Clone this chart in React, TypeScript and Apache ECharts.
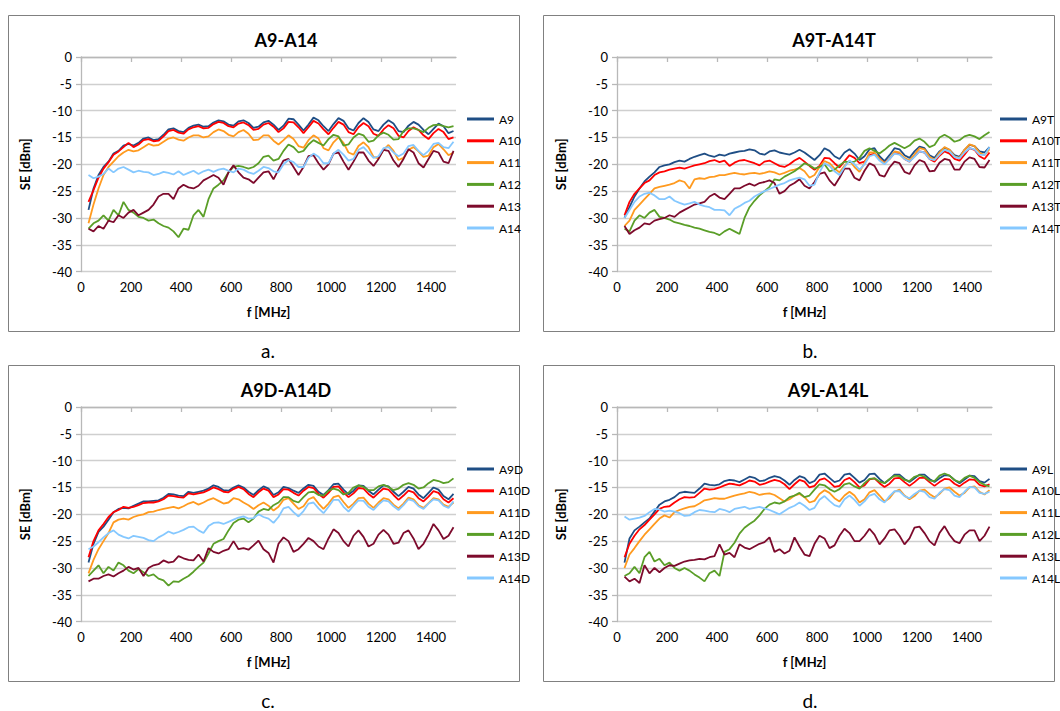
import React, { useEffect, useRef } from "react";
import * as echarts from "echarts";

// Frequency grid [MHz]
const FREQ = [
  30, 50, 70, 90, 110, 130, 150, 170, 190, 210,
  230, 250, 270, 290, 310, 330, 350, 370, 390, 410,
  430, 450, 470, 490, 510, 530, 550, 570, 590, 610,
  630, 650, 670, 690, 710, 730, 750, 770, 790, 810,
  830, 850, 870, 890, 910, 930, 950, 970, 990, 1010,
  1030, 1050, 1070, 1090, 1110, 1130, 1150, 1170, 1190, 1210,
  1230, 1250, 1270, 1290, 1310, 1330, 1350, 1370, 1390, 1410,
  1430, 1450, 1470, 1490,
];

const X_TICKS = [0, 200, 400, 600, 800, 1000, 1200, 1400];
const Y_TICKS = [0, -5, -10, -15, -20, -25, -30, -35, -40];

// ---- Panel a: A9-A14 ----
const A9 = [
  -28.5, -24.5, -22, -20.5, -19.5, -18, -17.5, -16.5, -16.2, -16.5,
  -16.0, -15.2, -15.0, -15.5, -15.3, -14.5, -13.5, -13.3, -13.8, -14.0,
  -13.2, -12.8, -12.6, -13.0, -12.9, -12.2, -11.8, -12.0, -12.6, -12.8,
  -12.0, -11.8, -12.3, -13.2, -13.0, -12.2, -11.9, -12.6, -13.6, -12.8,
  -11.5, -11.6, -12.6, -13.7, -12.6, -11.3, -11.8, -12.9, -13.8, -12.5,
  -11.4, -11.9, -13.3, -13.7, -12.3, -11.4, -12.1, -13.5, -13.8, -12.6,
  -11.8, -12.4, -13.8, -14.0, -12.8, -12.1, -12.6, -13.6, -14.4, -13.4,
  -12.4, -12.9, -14.2, -13.8,
];
const A10 = [
  -27, -24.8, -22.5, -20.8, -19.6, -18.2, -17.6, -16.8, -16.0, -16.8,
  -16.3, -15.5, -15.3, -15.7, -15.6, -14.8, -13.8, -13.6, -14.1, -14.3,
  -13.5, -13.1, -12.9, -13.3, -13.2, -12.5, -12.1, -12.3, -12.9, -13.1,
  -12.4, -12.2, -12.7, -13.6, -13.4, -12.6, -12.3, -13.0, -14.0, -13.3,
  -12.1, -12.2, -13.1, -14.2, -13.1, -11.9, -12.4, -13.5, -14.4, -13.2,
  -12.1, -12.6, -14.0, -14.4, -13.1, -12.3, -12.9, -14.3, -14.7, -13.5,
  -12.7, -13.3, -14.7, -15.0, -13.8, -13.1, -13.6, -14.6, -15.3, -14.2,
  -13.4, -14.0, -15.3, -15.0,
];
const A11 = [
  -31, -27.5, -24.5, -22, -20.5, -19.5, -18.5, -17.8, -17.3, -17.6,
  -17.4, -16.8, -16.2, -16.5, -16.4, -15.8, -15.2, -15.0, -15.4, -15.6,
  -15.0, -14.6, -14.6, -15.0, -14.8, -14.0, -13.5, -13.8, -14.5, -14.8,
  -14.0, -13.6, -14.3, -15.5, -15.4, -14.6, -14.6, -15.6, -16.3, -15.5,
  -14.6, -15.3, -16.6, -16.9, -15.5, -14.6, -15.2, -17.0, -17.4, -15.9,
  -15.0, -16.0, -17.8, -18.2, -16.6, -15.9, -16.8, -18.6, -18.9, -17.3,
  -16.4, -17.5, -19.2, -18.8, -17.3, -16.8, -17.6, -18.6, -18.4, -16.8,
  -16.2, -17.2, -18.3, -17.8,
];
const A12 = [
  -32, -31, -30.5, -29.5, -30.5, -28.5, -29.5, -27, -28.5, -29,
  -29.8, -30, -30.5, -30.3, -31.0, -31.5, -31.8, -32.5, -33.6, -32.0,
  -32.2, -29.5, -28.5, -29.8, -26.5, -24.5, -23.8, -23.0, -21.5, -20.5,
  -20.3, -20.5, -20.8, -20.5, -19.8, -18.6, -18.4, -19.3, -19.0, -17.5,
  -16.3, -16.8, -17.8, -17.5, -16.3, -15.5, -16.0, -16.5, -15.3, -14.5,
  -14.8, -16.5, -16.3, -15.0, -14.3, -14.6, -15.8, -15.6, -14.6, -14.1,
  -14.5, -15.4, -15.3, -13.8, -13.3, -13.3, -13.6, -14.0, -13.2, -12.7,
  -12.6, -12.9, -13.1, -12.9,
];
const A13 = [
  -32, -32.5, -31.5, -32, -30.5, -30.8, -29.5, -30, -29, -28.5,
  -29.5, -29, -28.5, -27.5, -26, -25.5, -25.5, -26.5, -24.5, -23.8,
  -24.3, -24.5, -24.0, -23.0, -22.5, -22.0, -22.5, -23.8, -21.5, -20.2,
  -21.5, -22.5, -22.8, -23.5, -22.5, -21.5, -21.3, -22.8, -21.0, -19.3,
  -19.0, -20.5, -22.0, -20.5, -18.5, -18.3, -19.8, -21.0, -20.0, -18.0,
  -17.8, -19.5, -21.0, -19.5, -17.8, -17.8, -19.3, -20.3, -19.0, -17.3,
  -17.5, -19.3, -20.5, -19.0, -17.2, -17.8, -19.8, -20.6, -19.0, -17.5,
  -17.8, -19.5, -19.8, -17.5,
];
const A14 = [
  -22.0, -22.6, -22.3, -21.8, -20.8, -21.5, -20.8, -20.5, -21.0, -21.5,
  -21.2, -21.4, -21.5, -22.0, -21.8, -21.4, -21.6, -21.9, -21.3, -22.0,
  -21.6, -21.2, -21.8, -21.3, -21.0, -21.4, -21.0, -20.8, -21.2, -21.5,
  -20.8, -21.0, -21.5, -21.8, -21.2, -20.5, -20.7, -21.3, -21.5, -20.0,
  -19.2, -19.6, -20.5, -20.5, -18.8, -18.0, -18.6, -19.8, -19.8, -18.0,
  -17.3, -18.2, -19.3, -19.0, -17.3, -16.8, -17.8, -18.8, -18.5, -17.0,
  -16.8, -17.8, -18.5, -18.0, -16.6, -16.4, -17.5, -18.3, -17.5, -16.2,
  -16.0, -16.8, -17.0, -15.8,
];

// ---- Panel b: A9T-A14T ----
const A9T = [
  -30.0, -28.0, -26.0, -24.5, -23.2, -22.3, -21.5, -20.5, -20.2, -20.0,
  -19.6, -19.3, -19.5, -19.0, -18.6, -18.3, -18.0, -18.4, -18.6, -18.2,
  -18.4, -18.0, -17.8, -17.6, -17.5, -17.2, -17.4, -18.0, -18.2, -17.6,
  -17.4, -17.8, -18.0, -18.2, -17.8, -17.3, -17.8, -18.5, -19.2, -18.3,
  -17.0, -17.5, -18.5, -19.0, -17.8, -17.2, -18.0, -19.2, -18.5, -17.2,
  -17.0, -18.5, -19.4, -18.3, -17.0, -17.2, -18.3, -18.8, -17.6, -16.7,
  -17.0, -18.3, -18.8, -17.6, -16.9, -17.3, -18.3, -18.6, -17.3, -16.4,
  -16.6, -17.6, -17.8, -16.8,
];
const A10T = [
  -29.5, -27.0, -25.5, -24.5, -23.5, -23.0, -22.0, -21.5, -21.3, -21.0,
  -20.8, -20.6, -20.8, -20.5, -20.2, -20.0, -19.8, -19.4, -19.2, -19.6,
  -19.3, -20.3, -19.7, -19.3, -19.2, -19.5, -19.8, -20.2, -19.5, -19.3,
  -19.8, -20.3, -20.5, -20.0, -19.3, -18.8, -19.5, -20.3, -21.0, -20.3,
  -18.8, -18.9, -19.8, -20.6, -19.4, -18.3, -18.8, -19.8, -19.5, -18.3,
  -18.0, -19.0, -19.8, -19.0, -17.9, -18.0, -19.0, -19.5, -18.5, -17.6,
  -17.8, -19.0, -19.5, -18.4, -17.6, -18.0, -19.0, -19.3, -18.2, -17.0,
  -17.3, -18.5, -19.0, -17.8,
];
const A11T = [
  -31.5, -30.5, -28.5, -27.5, -26.5, -25.5, -24.5, -24.2, -24.0, -23.8,
  -23.5, -23.0, -23.3, -24.5, -22.8, -22.6, -22.7, -22.4, -22.3, -22.0,
  -22.0, -21.8, -21.6, -21.8, -21.9, -21.7, -21.6, -21.8, -21.6, -21.3,
  -21.5, -21.9, -21.6, -21.2, -21.0, -20.7, -21.3, -22.5, -22.0, -20.5,
  -19.4, -19.8, -20.8, -21.5, -20.3, -19.3, -20.5, -21.4, -19.8, -17.8,
  -17.8, -19.0, -19.8, -19.0, -17.6, -17.8, -18.8, -19.3, -18.2, -17.0,
  -17.2, -18.6, -19.2, -17.8, -16.8, -17.3, -18.5, -18.8, -17.3, -16.3,
  -16.6, -17.8, -18.3, -17.2,
];
const A12T = [
  -32.0, -32.5, -30.5, -29.5, -30.0, -29.0, -28.5, -29.8, -30.0, -30.3,
  -30.8, -31.0, -31.3, -31.5, -31.8, -32.0, -32.3, -32.6, -32.8, -33.2,
  -32.5, -32.0, -32.5, -33.0, -30.0, -28.0, -26.8, -25.8, -25.0, -24.2,
  -22.8, -23.0, -22.3, -21.8, -21.3, -20.6, -19.8, -20.2, -20.8, -20.5,
  -20.0, -21.3, -21.0, -20.2, -19.5, -19.6, -19.5, -18.8, -17.5, -17.0,
  -17.5, -18.0, -17.3, -16.5, -16.0, -16.5, -17.0, -16.5, -15.6, -15.2,
  -15.8, -16.8, -16.4, -15.0, -14.5, -15.0, -15.8, -15.5, -14.8, -14.5,
  -14.8, -15.3, -14.6, -14.0,
];
const A13T = [
  -31.5, -33.0, -32.3, -31.8, -31.0, -31.2, -30.5, -30.2, -30.0, -29.5,
  -29.8, -29.0, -28.5, -28.0, -27.5, -27.3, -27.0, -26.0, -25.5, -26.2,
  -26.5, -25.5, -24.5, -24.5, -24.0, -23.6, -24.0, -23.5, -23.3, -23.0,
  -23.5, -25.5, -25.0, -24.0, -23.5, -22.8, -24.0, -24.5, -23.3, -21.8,
  -21.5, -23.0, -24.0, -22.5, -20.8, -20.8, -22.5, -23.0, -21.2, -19.8,
  -20.3, -22.0, -22.3, -20.6, -19.5, -19.8, -21.4, -21.8, -20.2, -19.2,
  -19.6, -21.3, -21.2, -19.7, -19.0, -19.2, -21.0, -21.0, -19.5, -18.7,
  -19.0, -20.5, -20.6, -19.2,
];
const A14T = [
  -30.0, -28.5, -27.0, -26.0, -25.5, -25.3, -25.8, -26.5, -26.5, -26.0,
  -26.8, -27.2, -27.5, -27.3, -27.0, -27.5, -27.8, -28.0, -28.5, -28.5,
  -28.6, -29.5, -28.3, -27.8, -27.2, -26.8, -26.0, -25.5, -25.0, -24.6,
  -24.2, -23.8, -23.5, -23.0, -22.7, -22.5, -22.8, -24.0, -23.8, -21.5,
  -19.8, -20.3, -21.3, -22.0, -20.5, -19.3, -20.0, -21.0, -20.0, -18.5,
  -18.2, -19.3, -20.0, -19.0, -18.0, -18.2, -19.0, -19.5, -18.6, -17.6,
  -17.8, -19.0, -19.2, -18.2, -17.3, -17.6, -18.6, -18.9, -17.8, -17.0,
  -17.2, -18.2, -18.3, -16.8,
];

// ---- Panel c: A9D-A14D ----
const A9D = [
  -29.0, -25.5, -23.3, -22.3, -21.0, -19.6, -19.0, -18.8, -18.9, -18.4,
  -18.0, -17.6, -17.6, -17.5, -17.4, -16.9, -16.2, -16.3, -16.5, -16.6,
  -15.8, -16.0, -15.8, -15.6, -15.2, -14.6, -14.9, -15.5, -15.6, -15.0,
  -14.6, -15.0, -15.8, -16.4, -15.5, -14.8, -15.2, -16.4, -15.9, -14.9,
  -15.1, -15.6, -16.0, -15.2, -14.5, -14.7, -15.8, -16.4, -15.5, -14.4,
  -14.3, -15.4, -16.3, -15.6, -14.6, -14.7, -15.6, -16.3, -15.4, -14.6,
  -14.8, -15.8, -16.6, -15.8, -14.9, -15.2, -16.3, -17.0, -16.0, -15.0,
  -15.4, -16.6, -17.2, -16.2,
];
const A10D = [
  -28.0, -25.0, -23.0, -21.8, -20.5, -19.6, -19.2, -18.6, -18.8, -18.6,
  -18.3, -17.9, -17.8, -17.8, -17.6, -17.2, -16.5, -16.6, -16.8, -16.9,
  -16.1, -16.3, -16.1, -15.9, -15.5, -15.0, -15.3, -15.8, -15.9, -15.3,
  -14.9, -15.3, -16.2, -16.8, -15.9, -15.2, -15.6, -16.8, -16.3, -15.3,
  -15.4, -16.0, -16.5, -15.6, -14.9, -15.1, -16.2, -16.9, -16.0, -14.9,
  -14.8, -15.9, -16.8, -16.1, -15.1, -15.2, -16.2, -16.9, -16.0, -15.2,
  -15.4, -16.4, -17.3, -16.5, -15.6, -15.9, -17.0, -17.6, -16.7, -15.7,
  -16.0, -17.2, -17.8, -17.0,
];
const A11D = [
  -31.0, -28.5, -26.5, -25.0, -23.5, -21.5, -21.0, -20.8, -21.0, -20.5,
  -20.2, -20.0, -19.6, -19.5, -19.2, -19.0, -18.8, -18.6, -18.9, -18.5,
  -18.0, -17.7, -18.2, -17.8, -17.3, -17.0, -17.5, -18.0, -17.8, -17.0,
  -17.2, -17.8, -18.3, -19.0, -18.3, -17.8, -18.4, -19.3, -18.6, -17.3,
  -17.0, -18.0, -19.0, -18.5, -17.2, -16.8, -18.0, -19.0, -18.0, -16.8,
  -16.5, -17.7, -18.8, -18.0, -17.0, -16.9, -18.0, -18.8, -17.8, -17.0,
  -17.2, -18.2, -18.9, -18.0, -16.9, -17.2, -18.3, -18.8, -17.9, -17.0,
  -17.2, -18.2, -18.6, -17.8,
];
const A12D = [
  -31.5, -30.5, -29.5, -31.0, -29.8, -30.5, -29.0, -29.5, -30.5, -31.0,
  -30.2, -30.8, -31.5, -31.2, -32.0, -32.3, -33.3, -32.5, -32.6, -32.0,
  -31.5, -30.7, -29.8, -29.0, -27.3, -25.5, -25.0, -24.6, -23.0, -21.6,
  -21.0, -20.8, -21.5, -20.8, -19.5, -19.0, -19.2, -18.3, -17.8, -16.8,
  -16.8, -17.5, -17.8, -16.8, -15.9, -15.8, -16.4, -16.5, -15.6, -15.2,
  -15.5, -16.3, -16.0, -15.0, -14.6, -14.9, -15.5, -15.5, -14.8, -14.5,
  -14.9, -15.5, -15.2, -14.5, -14.2, -14.5, -15.2, -15.0, -14.2, -13.6,
  -13.8, -14.2, -14.0, -13.3,
];
const A13D = [
  -32.5, -32.0, -32.0, -31.5, -31.2, -31.6, -31.0, -30.5, -29.8, -30.3,
  -30.0, -31.5, -30.0, -29.5, -29.3, -28.6, -29.0, -28.8, -27.8, -28.2,
  -28.5, -28.6, -27.5, -28.8, -26.3, -27.0, -27.3, -26.8, -26.5, -25.0,
  -26.5, -26.3, -26.6, -25.8, -24.9, -26.5, -27.2, -29.0, -25.5, -24.3,
  -25.0, -27.0, -26.5, -25.5, -24.4, -25.0, -26.0, -26.5, -24.5, -22.8,
  -23.5, -25.0, -26.0, -24.0, -23.0, -24.2, -26.0, -25.5, -23.8, -22.9,
  -23.8, -25.5, -25.3, -23.5, -23.0, -24.5, -26.5, -25.5, -23.8, -21.8,
  -23.0, -24.6, -24.0, -22.4,
];
const A14D = [
  -26.5, -26.0, -25.2, -24.3, -23.5, -23.0, -23.8, -24.2, -24.5, -24.0,
  -24.2, -24.4, -24.8, -25.0, -24.3, -23.8, -23.2, -23.6, -23.3, -22.9,
  -22.4, -22.3, -23.0, -23.5, -22.2, -21.6, -21.5, -21.8, -21.4, -21.0,
  -20.6, -20.4, -20.8, -20.7, -20.0, -20.5, -20.8, -21.6, -20.5, -18.9,
  -18.6, -19.6, -20.4, -19.4, -18.0, -17.8, -18.9, -19.8, -18.6, -17.3,
  -17.3, -18.6, -19.5, -18.4, -17.4, -17.5, -18.6, -19.2, -18.2, -17.4,
  -17.6, -18.5, -19.2, -18.3, -17.2, -17.5, -18.5, -19.0, -18.0, -17.2,
  -17.4, -18.4, -18.8, -17.6,
];

// ---- Panel d: A9L-A14L ----
const A9L = [
  -29.0, -24.5, -23.0, -22.3, -21.5, -20.8, -19.5, -18.2, -17.6, -17.3,
  -16.8, -16.0, -15.8, -15.9, -16.0, -15.2, -14.3, -14.5, -14.6, -14.4,
  -13.8, -13.6, -13.7, -14.0, -13.5, -13.0, -13.2, -13.8, -13.7, -13.2,
  -12.9, -13.1, -13.7, -14.5, -13.6, -12.9, -13.2, -14.2, -13.8, -12.6,
  -12.4, -13.2, -14.0, -13.7, -12.6, -12.4, -13.2, -14.1, -13.6, -12.5,
  -12.4, -13.4, -14.2, -13.5, -12.6, -12.6, -13.4, -14.0, -13.3, -12.6,
  -12.6, -13.4, -14.0, -13.3, -12.7, -12.8, -13.6, -14.2, -13.5, -12.8,
  -12.9, -13.8, -14.1, -13.4,
];
const A10L = [
  -28.0, -25.5, -24.0, -22.8, -22.0, -21.0, -20.0, -19.0, -18.6, -18.5,
  -17.8, -17.2, -16.8, -16.9, -16.8, -16.0, -15.2, -15.4, -15.3, -15.0,
  -14.6, -14.3, -14.4, -14.6, -14.2, -13.7, -13.9, -14.5, -14.3, -13.9,
  -13.6, -13.8, -14.4, -15.3, -14.4, -13.6, -13.9, -15.0, -14.7, -13.6,
  -13.3, -14.0, -14.9, -14.7, -13.6, -13.2, -14.0, -15.0, -14.6, -13.5,
  -13.3, -14.2, -14.9, -14.3, -13.3, -13.2, -14.0, -14.7, -14.0, -13.2,
  -13.2, -14.0, -14.7, -14.0, -13.4, -13.5, -14.3, -14.8, -14.1, -13.5,
  -13.6, -14.5, -14.8, -14.4,
];
const A11L = [
  -30.0, -27.5, -26.3, -25.0, -23.8, -22.8, -21.8, -20.8, -20.2, -20.6,
  -19.6, -19.2, -18.9, -18.6, -18.5, -18.0, -17.4, -17.2, -17.0, -17.1,
  -17.1, -16.8, -16.5, -16.3, -16.1, -15.8, -16.0, -16.4, -16.2, -16.1,
  -16.4, -17.0, -17.6, -17.2, -16.5, -16.2, -16.8, -17.8, -17.5, -16.2,
  -15.5, -16.0, -17.0, -17.6, -16.5, -15.8, -16.5, -17.8, -17.2, -15.9,
  -15.5, -16.5, -17.6, -17.0, -15.8, -15.4, -16.5, -17.2, -16.6, -15.6,
  -15.4, -16.2, -16.8, -16.2, -15.2, -15.0, -15.8, -16.5, -16.0, -15.0,
  -14.8, -15.8, -16.3, -15.5,
];
const A12L = [
  -31.5, -31.0, -29.8, -31.0, -28.0, -27.0, -28.8, -28.3, -29.5, -29.0,
  -30.0, -30.5, -30.0, -30.5, -31.2, -31.8, -32.5, -31.0, -30.5, -31.5,
  -27.0, -26.5, -25.3, -23.6, -22.5, -21.8, -21.2, -20.2, -19.0, -18.2,
  -17.8, -18.0, -17.6, -16.8, -16.5, -16.0, -16.8, -16.5, -15.4, -14.4,
  -14.6, -15.3, -15.8, -15.3, -14.4, -14.2, -14.8, -15.2, -14.2, -13.4,
  -13.3, -13.9, -14.2, -13.4, -12.8, -12.9, -13.6, -13.8, -13.0, -12.7,
  -13.0, -13.7, -13.8, -12.8, -12.4, -12.8, -13.6, -14.0, -13.2, -12.8,
  -13.2, -14.0, -14.5, -14.8,
];
const A13L = [
  -31.6, -32.5, -32.0, -32.8, -29.5, -31.0, -30.0, -30.8, -30.0, -29.5,
  -29.6, -29.2, -28.8, -28.6, -28.5, -28.3, -28.4, -28.0, -27.8, -25.6,
  -27.5, -27.2, -28.0, -25.6, -26.2, -26.5, -26.0, -25.5, -25.2, -24.3,
  -27.0, -26.5, -27.3, -26.8, -24.3, -26.0, -27.5, -27.8, -25.5, -24.0,
  -24.5, -26.3, -25.8, -24.0, -22.7, -23.5, -25.0, -25.0, -24.0, -22.7,
  -23.8, -25.6, -24.5, -23.0, -22.8, -24.0, -25.6, -24.5, -22.5, -22.3,
  -23.5, -25.0, -25.8, -23.5, -22.2, -23.8, -25.0, -25.4, -23.8, -23.0,
  -23.0, -25.0, -24.0, -22.3,
];
const A14L = [
  -20.4, -21.0, -20.8, -20.6, -20.3, -19.6, -19.0, -19.1, -19.5, -19.3,
  -19.5, -19.8, -20.3, -20.2, -19.6, -19.2, -19.3, -19.5, -19.6, -19.0,
  -19.2, -19.6, -19.0, -18.8, -18.6, -19.0, -18.8, -18.6, -18.9, -19.2,
  -19.6, -20.0, -19.4, -18.8, -18.4, -17.8, -18.4, -19.2, -18.8, -17.3,
  -16.6, -17.5, -18.3, -18.6, -17.2, -16.5, -17.3, -18.4, -17.6, -16.5,
  -16.2, -17.2, -17.8, -16.6, -15.7, -15.7, -16.6, -17.0, -16.2, -15.6,
  -15.8, -16.8, -17.1, -16.0, -15.3, -15.5, -16.5, -16.8, -15.8, -14.9,
  -15.0, -16.0, -16.2, -15.8,
];

const TITLES = ["A9-A14", "A9T-A14T", "A9D-A14D", "A9L-A14L"];
const CAPTIONS = ["a.", "b.", "c.", "d."];
const NAMES = [
  ["A9", "A10", "A11", "A12", "A13", "A14"],
  ["A9T", "A10T", "A11T", "A12T", "A13T", "A14T"],
  ["A9D", "A10D", "A11D", "A12D", "A13D", "A14D"],
  ["A9L", "A10L", "A11L", "A12L", "A13L", "A14L"],
];
const VALUES = [
  [A9, A10, A11, A12, A13, A14],
  [A9T, A10T, A11T, A12T, A13T, A14T],
  [A9D, A10D, A11D, A12D, A13D, A14D],
  [A9L, A10L, A11L, A12L, A13L, A14L],
];
const COLORS = ["#1f4e85", "#ff0000", "#ff9a1f", "#5a9e28", "#7d0a2c", "#85c8ff"];

const FONT = "Lato, 'Noto Sans', sans-serif";

// layout of the four panels
const LAYOUT = [
  { gx: 81, gy: 57, bx: 8, by: 15, tx: 286, cx: 268, lx: 467 },
  { gx: 617, gy: 57, bx: 543, by: 15, tx: 834, cx: 810, lx: 1000 },
  { gx: 81, gy: 407, bx: 8, by: 365, tx: 286, cx: 268, lx: 467 },
  { gx: 617, gy: 407, bx: 543, by: 365, tx: 828, cx: 810, lx: 1000 },
];
const GW = 375;
const GH = 214.6;

export default function App() {
  const ref = useRef<HTMLDivElement>(null);

  useEffect(() => {
    if (!ref.current) return;
    const chart = echarts.init(ref.current, undefined, { renderer: "svg" });

    const grids: any[] = [];
    const xAxes: any[] = [];
    const yAxes: any[] = [];
    const legends: any[] = [];
    const series: any[] = [];
    const graphics: any[] = [];

    LAYOUT.forEach((L, p) => {
      grids.push({ left: L.gx, top: L.gy, width: GW, height: GH });
      xAxes.push({
        type: "value",
        gridIndex: p,
        min: X_TICKS[0],
        max: 1500,
        interval: X_TICKS[1] - X_TICKS[0],
        name: "f [MHz]",
        nameLocation: "middle",
        nameGap: 34,
        nameTextStyle: { fontFamily: FONT, fontWeight: "bold", fontSize: 13, color: "#000" },
        axisLine: { show: true, lineStyle: { color: "#b8b8b8", width: 1.3 } },
        axisTick: { show: true, length: 5, lineStyle: { color: "#b8b8b8", width: 1.3 } },
        axisLabel: {
          fontFamily: FONT, fontSize: 13, color: "#000", margin: 9,
          showMaxLabel: false,
          formatter: (v: number) => String(v),
        },
        splitLine: { show: false },
      });
      yAxes.push({
        type: "value",
        gridIndex: p,
        min: Y_TICKS[Y_TICKS.length - 1],
        max: Y_TICKS[0],
        interval: 5,
        name: "SE [dBm]",
        nameLocation: "middle",
        nameGap: 50,
        nameTextStyle: { fontFamily: FONT, fontWeight: "bold", fontSize: 13, color: "#000" },
        axisLine: { show: true, lineStyle: { color: "#b8b8b8", width: 1.3 } },
        axisTick: { show: true, length: 5, lineStyle: { color: "#b8b8b8", width: 1.3 } },
        axisLabel: { fontFamily: FONT, fontSize: 13, color: "#000", margin: 9 },
        splitLine: { show: true, lineStyle: { color: "#cfcfcf", width: 1.3 } },
      });
      legends.push({
        orient: "vertical",
        left: L.lx,
        top: L.gy + 55,
        padding: 0,
        itemWidth: 27,
        itemHeight: 3,
        itemGap: 7.8,
        icon: "rect",
        textStyle: { fontFamily: FONT, fontSize: 12, color: "#000", lineHeight: 14 },
        data: NAMES[p],
      });
      NAMES[p].forEach((name, s) => {
        const vals = VALUES[p][s];
        series.push({
          type: "line",
          name,
          xAxisIndex: p,
          yAxisIndex: p,
          symbol: "none",
          showSymbol: false,
          color: COLORS[s],
          lineStyle: { width: 1.8, color: COLORS[s] },
          data: FREQ.map((f, i) => [f, vals[i]]),
        });
      });
      graphics.push({
        type: "rect",
        shape: { x: L.bx + 0.5, y: L.by + 0.5, width: 511, height: 316 },
        style: { fill: "none", stroke: "#808080", lineWidth: 1 },
        silent: true,
      });
      graphics.push({
        type: "text",
        x: L.tx,
        y: L.by + 25,
        style: {
          text: TITLES[p],
          font: `bold 18px ${FONT}`,
          fill: "#000",
          textAlign: "center",
          textVerticalAlign: "middle",
        },
      });
      graphics.push({
        type: "text",
        x: L.cx,
        y: L.by + 335,
        style: {
          text: CAPTIONS[p],
          font: `19px ${FONT}`,
          fill: "#000",
          textAlign: "center",
          textVerticalAlign: "middle",
        },
      });
    });

    chart.setOption({
      animation: false,
      backgroundColor: "#ffffff",
      grid: grids,
      xAxis: xAxes,
      yAxis: yAxes,
      legend: legends,
      series,
      graphic: { elements: graphics },
    });

    return () => chart.dispose();
  }, []);

  return (
    <div
      ref={ref}
      style={{ position: "absolute", left: 0, top: 0, width: 1060, height: 711 }}
    />
  );
}
